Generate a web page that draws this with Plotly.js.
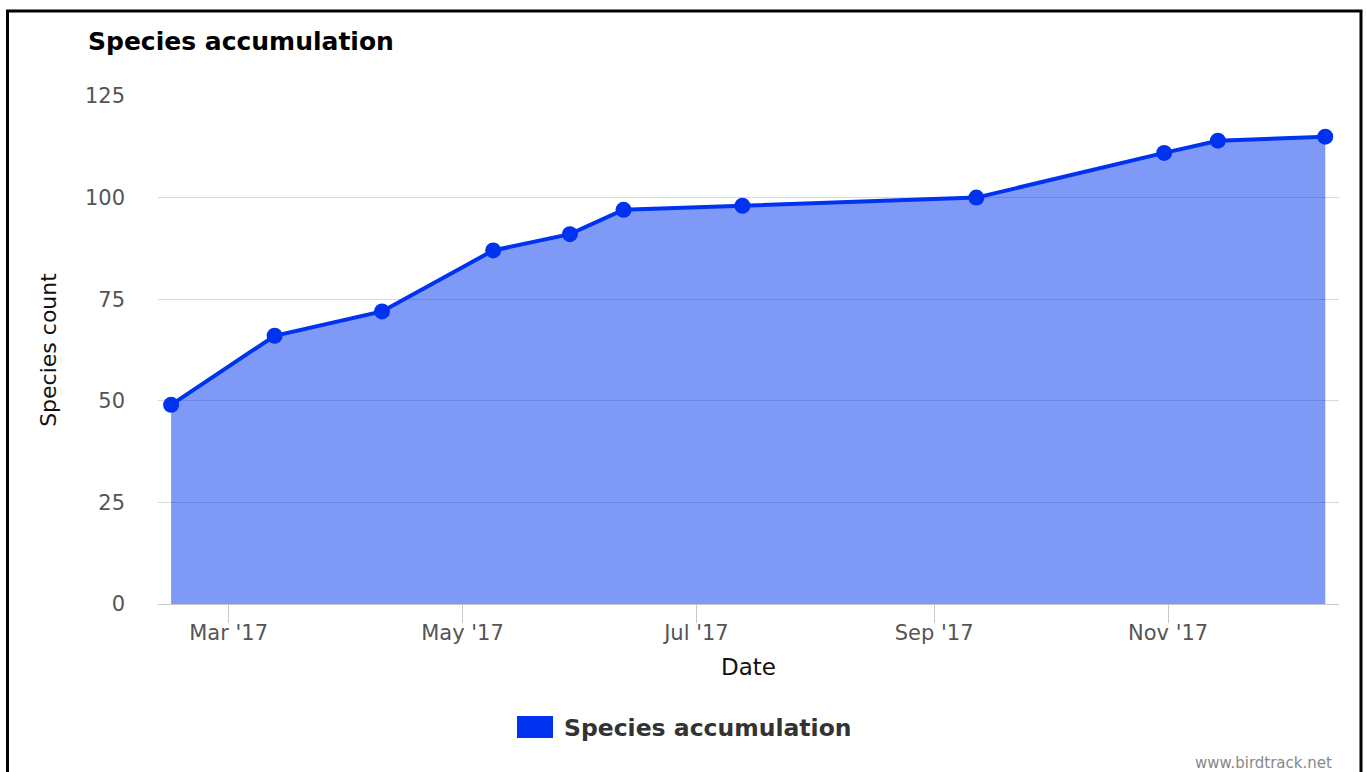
<!DOCTYPE html>
<html>
<head>
<meta charset="utf-8">
<script src="https://cdn.plot.ly/plotly-3.0.1.min.js"></script>
<style>
html,body{margin:0;padding:0;background:#fff;}
#chart{width:1366px;height:772px;}
</style>
</head>
<body>
<div id="chart"></div>
<script>
// Data
const dates = ['2017-02-14','2017-03-13','2017-04-10','2017-05-09','2017-05-29','2017-06-12','2017-07-13','2017-09-12','2017-10-31','2017-11-14','2017-12-12'];
const counts = [49, 66, 72, 87, 91, 97, 98, 100, 111, 114, 115];
const seriesName = 'Species accumulation';
const chartTitle = 'Species accumulation';
const xTitle = 'Date';
const yTitle = 'Species count';
const yTicks = [0, 25, 50, 75, 100, 125];
const watermark = 'www.birdtrack.net';

const blue = 'rgb(0,51,240)';
const font = 'DejaVu Sans, Verdana, sans-serif';

// pixel helpers for paper coordinates (plot area 158..1339 x, 96..604 y)
const px = v => (v - 158) / 1181;
const py = v => (604 - v) / 508;

const traces = [
  {
    type: 'scatter',
    mode: 'lines+markers',
    x: dates,
    y: counts,
    fill: 'tozeroy',
    fillcolor: 'rgba(0,51,240,0.5)',
    line: {color: blue, width: 4},
    marker: {color: blue, size: 16},
    showlegend: false,
    hoverinfo: 'x+y'
  },
  {
    type: 'scatter',
    mode: 'markers',
    x: [null],
    y: [null],
    name: seriesName,
    marker: {color: blue, symbol: 'square', size: 16},
    showlegend: true
  }
];

const layout = {
  width: 1366,
  height: 772,
  paper_bgcolor: '#fff',
  plot_bgcolor: '#fff',
  margin: {l: 158, r: 27, t: 96, b: 168},
  font: {family: font, color: '#222'},
  title: {
    text: '<b>' + chartTitle + '</b>',
    font: {family: font, size: 25, color: '#000'},
    xref: 'container', x: 88/1366, xanchor: 'left',
    yref: 'container', y: 1 - 41/772, yanchor: 'middle'
  },
  xaxis: {
    type: 'date',
    range: ['2017-02-10 14:00', '2017-12-15 14:00'],
    tick0: '2017-03-01',
    dtick: 'M2',
    tickformat: "%b '%y",
    ticks: 'outside',
    ticklen: 18,
    tickcolor: '#c8c8c8',
    tickwidth: 1,
    ticklabelstandoff: -8,
    showgrid: false,
    showline: true,
    linecolor: '#c8c8c8',
    linewidth: 1,
    zeroline: false,
    tickfont: {family: font, size: 21, color: '#555'},
    title: {text: xTitle, font: {family: font, size: 23, color: '#111'}, standoff: 14}
  },
  yaxis: {
    range: [0, 125],
    tickvals: yTicks,
    ticktext: yTicks.map(String),
    showgrid: true,
    gridcolor: '#d9d9d9',
    gridwidth: 1,
    zeroline: false,
    showline: false,
    ticks: '',
    ticklabelstandoff: 32,
    tickfont: {family: font, size: 21, color: '#555'},
    title: {text: yTitle, font: {family: font, size: 22, color: '#111'}, standoff: 22}
  },
  showlegend: true,
  legend: {
    orientation: 'h',
    itemwidth: 30,
    xref: 'container', x: 524/1366, xanchor: 'left',
    yref: 'container', y: 1 - 727/772, yanchor: 'middle',
    font: {family: font, size: 23.5, color: '#333', weight: 'bold'},
    bgcolor: 'rgba(0,0,0,0)'
  },
  annotations: [
    {
      text: watermark,
      xref: 'paper', yref: 'paper',
      x: px(1334), xanchor: 'right',
      y: py(763), yanchor: 'middle',
      showarrow: false,
      font: {family: font, size: 15, color: '#888'}
    }
  ],
  shapes: [
    {
      // outer frame of the picture
      type: 'rect',
      xref: 'paper', yref: 'paper',
      x0: px(7.5), x1: px(1361),
      y0: py(790), y1: py(11),
      line: {color: '#000', width: 3},
      fillcolor: 'rgba(0,0,0,0)',
      layer: 'above'
    },
    {
      // wide legend swatch behind the legend marker
      type: 'rect',
      xref: 'paper', yref: 'paper',
      x0: px(517), x1: px(553),
      y0: py(738), y1: py(716),
      line: {width: 0},
      fillcolor: blue,
      layer: 'above'
    }
  ]
};

Plotly.newPlot('chart', traces, layout, {displayModeBar: false, staticPlot: true});
</script>
</body>
</html>
